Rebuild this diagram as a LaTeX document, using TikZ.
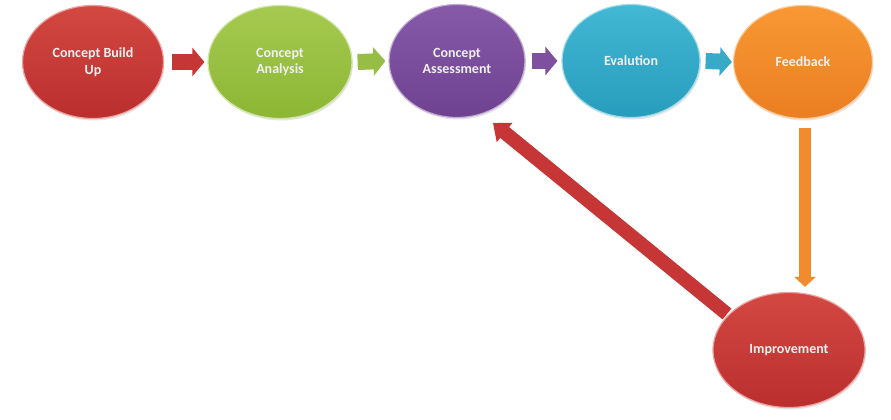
\documentclass[tikz,border=0pt]{standalone}
\usepackage{fontspec}
\setmainfont{Carlito}
\usetikzlibrary{shapes.geometric,arrows.meta,calc,shadows}
\definecolor{redT}{RGB}{212,72,66}
\definecolor{redB}{RGB}{186,46,46}
\definecolor{grnT}{RGB}{166,202,80}
\definecolor{grnB}{RGB}{140,182,52}
\definecolor{purT}{RGB}{134,90,168}
\definecolor{purB}{RGB}{110,66,145}
\definecolor{cyaT}{RGB}{66,184,212}
\definecolor{cyaB}{RGB}{40,156,188}
\definecolor{orgT}{RGB}{248,152,52}
\definecolor{orgB}{RGB}{234,126,34}
\definecolor{redA}{RGB}{198,54,54}
\definecolor{grnA}{RGB}{150,190,70}
\definecolor{purA}{RGB}{125,80,160}
\definecolor{cyaA}{RGB}{55,170,200}
\definecolor{orgA}{RGB}{240,140,45}
\begin{document}
\begin{tikzpicture}[x=1pt,y=-1pt,
  bubble/.style 2 args={ellipse, minimum width=141pt, minimum height=113pt,
    inner sep=0pt, align=center, text=white!94!black,
    font=\bfseries\fontsize{14}{16.5}\selectfont,
    top color=#1, bottom color=#2, draw=#1!50!white, line width=1.2pt,
    drop shadow={opacity=0.2, shadow xshift=1pt, shadow yshift=-2pt}},
  harrow/.style={draw=#1, line width=16pt, -{Triangle[width=28pt,length=12pt]}},
  varrow/.style={draw=#1, line width=12pt, -{Triangle[width=21pt,length=10pt]}},
  darrow/.style={draw=#1, line width=14pt, -{Triangle[width=24pt,length=15pt]}}
]
\useasboundingbox (0,0) rectangle (891,420);
\node[bubble={redT}{redB}] (cb) at (93,62) {Concept Build\\Up};
\node[bubble={grnT}{grnB}, minimum width=144pt] (ca) at (280,62) {Concept\\Analysis};
\node[bubble={purT}{purB}, minimum width=136pt] (as) at (457,61) {Concept\\Assessment};
\node[bubble={cyaT}{cyaB}, minimum width=138pt] (ev) at (631,61) {Evalution};
\node[bubble={orgT}{orgB}, minimum width=139pt] (fb) at (803,62) {Feedback};
\node[bubble={redT}{redB}, minimum width=152pt, minimum height=115pt] (im) at (789,350) {Improvement};

\draw[harrow=redA] ($(cb.east)+(8,0)$) -- ($(ca.west)+(-3,0)$);
\draw[harrow=grnA] ($(ca.east)+(5,0)$) -- ($(as.west)+(-3,0)$);
\draw[harrow=purA] ($(as.east)+(6,0)$) -- ($(ev.west)+(-4,0)$);
\draw[harrow=cyaA] ($(ev.east)+(5,0)$) -- ($(fb.west)+(-1,0)$);

\coordinate (vs) at ($(fb.south)+(2,9)$);
\coordinate (ve) at ($(vs |- im.north)+(0,-5)$);
\draw[varrow=orgA] (vs) -- (ve);

\coordinate (ds) at ($(im.center)+(-62,-36)$);
\coordinate (dt) at ($(as.center)+(36,62)$);
\draw[darrow=redA] (ds) -- (dt);
\end{tikzpicture}
\end{document}
